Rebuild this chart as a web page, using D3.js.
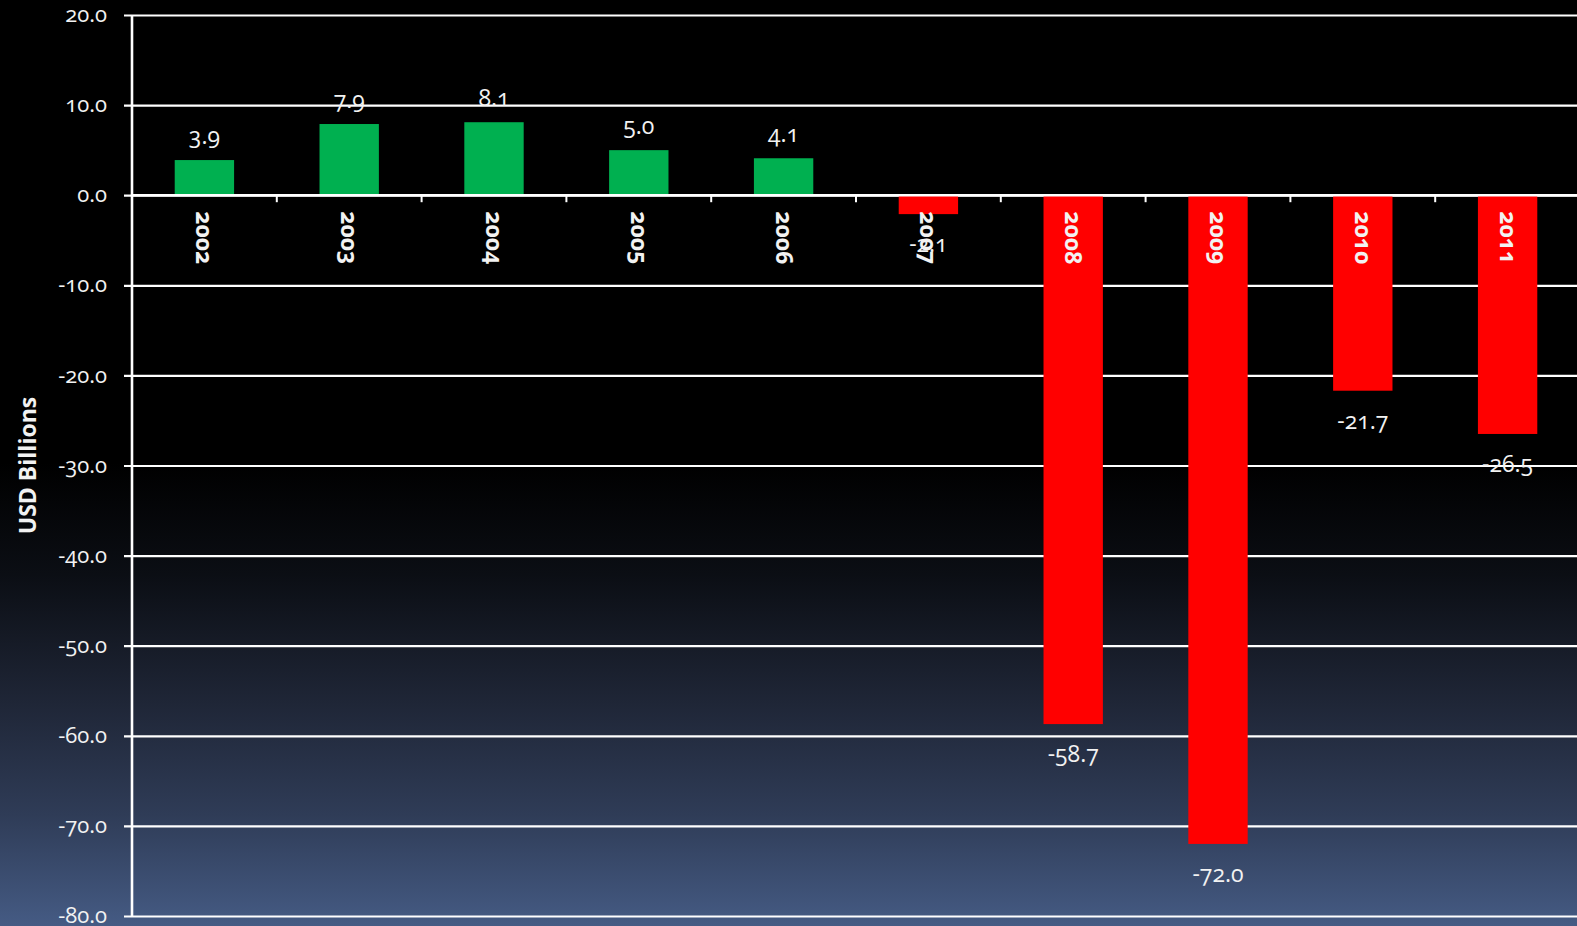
<!DOCTYPE html>
<html>
<head>
<meta charset="utf-8">
<script src="https://cdn.jsdelivr.net/npm/d3@7"></script>
<style>
  html, body { margin: 0; padding: 0; background: #000; }
  svg { display: block; }
  text { font-family: "Open Sans", "Lato", sans-serif; fill: #f2f2f2; font-variant-numeric: oldstyle-nums; }
</style>
</head>
<body>
<svg id="chart" width="1577" height="926"></svg>
<script>
// Annual balance, USD billions
const years = ["2002", "2003", "2004", "2005", "2006", "2007", "2008", "2009", "2010", "2011"];
const values = [3.9, 7.9, 8.1, 5.0, 4.1, -2.1, -58.7, -72.0, -21.7, -26.5];
const yTicks = [20, 10, 0, -10, -20, -30, -40, -50, -60, -70, -80];
const yTitle = "USD Billions";

const W = 1577, H = 926;
const margin = { left: 132, top: 15, bottom: 10 };

// plain hyphen for negatives
const fmt = d3.formatLocale({ decimal: ".", thousands: ",", grouping: [3], currency: ["", ""], minus: "-" }).format(".1f");

const svg = d3.select("#chart");

// background: black fading into slate blue toward the bottom
const defs = svg.append("defs");
const grad = defs.append("linearGradient")
  .attr("id", "bg").attr("x1", 0).attr("y1", 0).attr("x2", 0).attr("y2", 1);
grad.append("stop").attr("offset", "0").attr("stop-color", "#000000");
grad.append("stop").attr("offset", "0.50").attr("stop-color", "#000000");
grad.append("stop").attr("offset", "0.62").attr("stop-color", "#0b0e14");
grad.append("stop").attr("offset", "0.76").attr("stop-color", "#1f2637");
grad.append("stop").attr("offset", "0.88").attr("stop-color", "#2f3c57");
grad.append("stop").attr("offset", "1").attr("stop-color", "#455b84");
svg.append("rect").attr("width", W).attr("height", H).attr("fill", "url(#bg)");

const x = d3.scaleBand()
  .domain(years)
  .range([margin.left, margin.left + 1448])
  .paddingInner(0.59)
  .paddingOuter(0.295);

const y = d3.scaleLinear()
  .domain([-80, 20])
  .range([H - margin.bottom, margin.top]);

// horizontal gridlines + y axis labels
const yAxis = d3.axisLeft(y)
  .tickValues(yTicks)
  .tickFormat(fmt)
  .tickSize(-(W - margin.left))
  .tickPadding(25);

const gy = svg.append("g")
  .attr("transform", `translate(${margin.left},0)`)
  .call(yAxis);
gy.select(".domain").remove();
gy.selectAll(".tick line")
  .attr("x1", -8)
  .attr("stroke", "#ffffff")
  .attr("stroke-width", 2.2);
gy.selectAll(".tick text")
  .attr("font-size", 22)
  .attr("dy", "0.3em")
  .attr("fill", "#f0f0f0")
  .style("font-family", "'Open Sans', sans-serif");

// bars
svg.append("g").selectAll("rect")
  .data(years.map((yr, i) => ({ yr, v: values[i] })))
  .join("rect")
  .attr("x", d => x(d.yr))
  .attr("width", x.bandwidth())
  .attr("y", d => y(Math.max(0, d.v)))
  .attr("height", d => Math.abs(y(d.v) - y(0)))
  .attr("fill", d => d.v >= 0 ? "#00b050" : "#ff0000");

// vertical axis line
svg.append("line")
  .attr("x1", margin.left).attr("x2", margin.left)
  .attr("y1", y(20)).attr("y2", y(-80))
  .attr("stroke", "#ffffff").attr("stroke-width", 2.6);

// zero baseline with category boundary ticks
const gx = svg.append("g")
  .attr("transform", `translate(0,${y(0)})`);
gx.append("line")
  .attr("x1", margin.left).attr("x2", W)
  .attr("stroke", "#ffffff").attr("stroke-width", 2.6);
gx.selectAll("line.tick")
  .data(years.slice(1))
  .join("line")
  .attr("class", "tick")
  .attr("x1", d => x(d) - x.step() * x.paddingInner() / 2)
  .attr("x2", d => x(d) - x.step() * x.paddingInner() / 2)
  .attr("y1", 0).attr("y2", 7)
  .attr("stroke", "#ffffff").attr("stroke-width", 2);

// category labels, rotated along the bars
gx.selectAll("text.cat")
  .data(years)
  .join("text")
  .attr("class", "cat")
  .attr("transform", d => `translate(${x(d) + x.bandwidth() / 2},16) rotate(90)`)
  .attr("dy", "0.35em")
  .attr("font-size", 23)
  .attr("font-weight", 700)
  .attr("fill", "#ffffff")
  .text(d => d);

// value labels
svg.append("g").selectAll("text")
  .data(years.map((yr, i) => ({ yr, v: values[i] })))
  .join("text")
  .attr("x", d => x(d.yr) + x.bandwidth() / 2)
  .attr("y", d => d.v >= 0 ? y(d.v) - 16 : y(d.v) + 38)
  .attr("text-anchor", "middle")
  .attr("font-size", 23)
  .attr("fill", "#f0f0f0")
  .text(d => fmt(d.v));

// y axis title
svg.append("text")
  .attr("transform", `translate(36,${(y(20) + y(-80)) / 2}) rotate(-90)`)
  .attr("text-anchor", "middle")
  .attr("font-size", 23)
  .attr("font-weight", 700)
  .attr("fill", "#ffffff")
  .style("font-variant-numeric", "normal")
  .text(yTitle);
</script>
</body>
</html>
